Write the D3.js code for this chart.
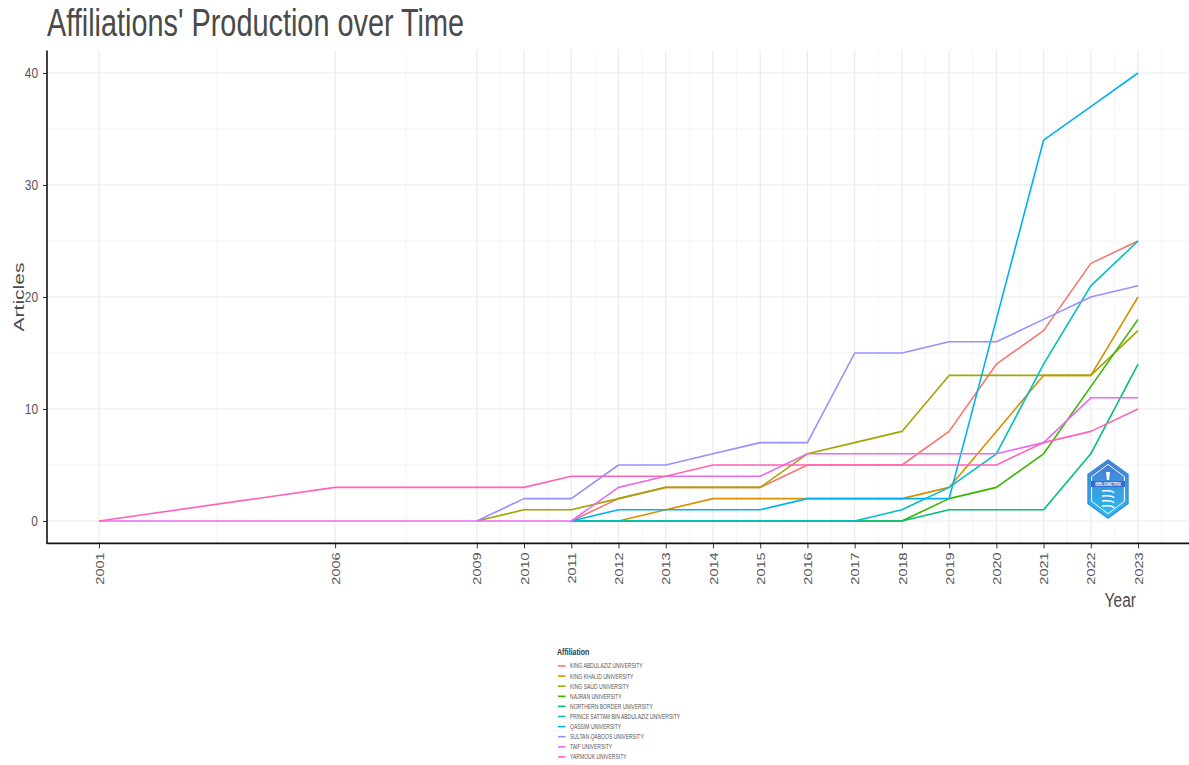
<!DOCTYPE html>
<html>
<head>
<meta charset="utf-8">
<script src="https://cdn.jsdelivr.net/npm/d3@7"></script>
<style>
  html, body { margin: 0; padding: 0; background: #fff; }
  svg { display: block; font-family: "Liberation Sans", Arial, sans-serif; }
</style>
</head>
<body>
<svg id="chart" width="1189" height="765"></svg>
<script>
// ---------- data ----------
const years = [2001, 2006, 2009, 2010, 2011, 2012, 2013, 2014, 2015, 2016, 2017, 2018, 2019, 2020, 2021, 2022, 2023];
const affiliations = [
  "KING ABDULAZIZ UNIVERSITY", "KING KHALID UNIVERSITY", "KING SAUD UNIVERSITY",
  "NAJRAN UNIVERSITY", "NORTHERN BORDER UNIVERSITY", "PRINCE SATTAM BIN ABDULAZIZ UNIVERSITY",
  "QASSIM UNIVERSITY", "SULTAN QABOOS UNIVERSITY", "TAIF UNIVERSITY", "YARMOUK UNIVERSITY"
];
const colors = ["#F8766D", "#D89000", "#A3A500", "#39B600", "#00BF7D", "#00BFC4", "#00B0F6", "#9590FF", "#E76BF3", "#FF62BC"];
const kingAbdulaziz  = [null, null, null, null, 0, 2, 3, 3, 3, 5, 5, 5, 8, 14, 17, 23, 25];
const kingKhalid     = [null, null, null, null, null, 0, 1, 2, 2, 2, 2, 2, 3, 8, 13, 13, 20];
const kingSaud       = [null, null, 0, 1, 1, 2, 3, 3, 3, 6, 7, 8, 13, 13, 13, 13, 17];
const najran         = [null, null, null, null, 0, 0, 0, 0, 0, 0, 0, 0, 2, 3, 6, 12, 18];
const northernBorder = [null, null, null, null, 0, 0, 0, 0, 0, 0, 0, 0, 1, 1, 1, 6, 14];
const princeSattam   = [null, null, null, null, 0, 0, 0, 0, 0, 0, 0, 1, 3, 6, 14, 21, 25];
const qassim         = [null, null, null, null, 0, 1, 1, 1, 1, 2, 2, 2, 2, 18, 34, 37, 40];
const sultanQaboos   = [null, null, 0, 2, 2, 5, 5, 6, 7, 7, 15, 15, 16, 16, 18, 20, 21];
const taif           = [0, 0, 0, 0, 0, 3, 4, 4, 4, 6, 6, 6, 6, 6, 7, 11, 11];
const yarmouk        = [0, 3, 3, 3, 4, 4, 4, 5, 5, 5, 5, 5, 5, 5, 7, 8, 10];
const seriesValues = [kingAbdulaziz, kingKhalid, kingSaud, najran, northernBorder, princeSattam, qassim, sultanQaboos, taif, yarmouk];
const yTicks = [0, 10, 20, 30, 40];
const yMinor = [5, 15, 25, 35];

// ---------- layout ----------
const SQ = 0.74; // horizontal text condensation
const svg = d3.select("#chart");
const x = d3.scaleLinear().domain([1999.9, 2024.1]).range([47, 1190]);
const y = d3.scaleLinear().domain([-2, 42]).range([543.4, 50.6]);

// minor x breaks at midpoints
const xMinor = [];
for (let i = 0; i < years.length - 1; i++) xMinor.push((years[i] + years[i + 1]) / 2);
xMinor.push(years[years.length - 1] + 0.5);

const grid = svg.append("g");
grid.selectAll(".xm").data(xMinor).join("line")
  .attr("x1", d => x(d)).attr("x2", d => x(d)).attr("y1", y(42)).attr("y2", y(-2))
  .attr("stroke", "#f0f0f0").attr("stroke-width", 0.7);
grid.selectAll(".ym").data(yMinor).join("line")
  .attr("x1", x.range()[0]).attr("x2", x.range()[1]).attr("y1", d => y(d)).attr("y2", d => y(d))
  .attr("stroke", "#f0f0f0").attr("stroke-width", 0.7);
grid.selectAll(".xM").data(years).join("line")
  .attr("x1", d => x(d)).attr("x2", d => x(d)).attr("y1", y(42)).attr("y2", y(-2))
  .attr("stroke", "#ebebeb").attr("stroke-width", 1.2);
grid.selectAll(".yM").data(yTicks).join("line")
  .attr("x1", x.range()[0]).attr("x2", x.range()[1]).attr("y1", d => y(d)).attr("y2", d => y(d))
  .attr("stroke", "#ebebeb").attr("stroke-width", 1.2);

// ---------- lines ----------
const line = d3.line()
  .defined(d => d.v !== null)
  .x(d => x(d.year)).y(d => y(d.v));
const linesG = svg.append("g");
seriesValues.forEach((vals, i) => {
  const pts = years.map((yr, j) => ({ year: yr, v: vals[j] }));
  linesG.append("path").datum(pts)
    .attr("d", line)
    .attr("fill", "none")
    .attr("stroke", colors[i])
    .attr("stroke-width", 1.6)
    .attr("stroke-linejoin", "round");
});

// ---------- axes ----------
const yAxis = d3.axisLeft(y).tickValues(yTicks).tickSize(4).tickPadding(5);
const yg = svg.append("g").attr("transform", `translate(${x.range()[0]},0)`).call(yAxis);
yg.select(".domain").remove();
yg.selectAll(".tick line").attr("stroke", "#333").attr("stroke-width", 1);
yg.selectAll(".tick text")
  .attr("font-size", 14).attr("fill", "#555")
  .attr("font-family", "Liberation Sans, Arial, sans-serif")
  .each(function () {
    const t = d3.select(this);
    t.attr("transform", `translate(-9,0) scale(0.85,1)`).attr("x", 0);
  });

const xAxis = d3.axisBottom(x).tickValues(years).tickFormat(d3.format("d")).tickSize(5).tickPadding(4);
const xg = svg.append("g").attr("transform", `translate(0,${y(-2)})`).call(xAxis);
xg.select(".domain").remove();
xg.selectAll(".tick line").attr("stroke", "#333").attr("stroke-width", 1);
xg.selectAll(".tick text")
  .attr("font-size", 14.5).attr("fill", "#555")
  .attr("font-family", "Liberation Sans, Arial, sans-serif")
  .attr("text-anchor", "end")
  .attr("x", 0).attr("y", 0).attr("dy", "0.36em")
  .attr("transform", `translate(0,9) scale(0.8,1) rotate(-90)`);

// axis lines
svg.append("line").attr("x1", x.range()[0]).attr("x2", x.range()[0])
  .attr("y1", y(42)).attr("y2", y(-2) + 0.5).attr("stroke", "#111").attr("stroke-width", 1.6);
svg.append("line").attr("x1", x.range()[0]).attr("x2", 1189)
  .attr("y1", y(-2)).attr("y2", y(-2)).attr("stroke", "#111").attr("stroke-width", 1.6);

// ---------- titles ----------
svg.append("text").text("Affiliations' Production over Time")
  .attr("transform", `translate(47,36) scale(${SQ},1)`)
  .attr("font-size", 39).attr("fill", "#4a4a4a");
svg.append("text").text("Year")
  .attr("transform", `translate(1136,607) scale(${SQ},1)`)
  .attr("text-anchor", "end")
  .attr("font-size", 21).attr("fill", "#4a4a4a");
svg.append("text").text("Articles")
  .attr("transform", `translate(24,297) scale(${SQ},1) rotate(-90)`)
  .attr("text-anchor", "middle")
  .attr("font-size", 21).attr("fill", "#4a4a4a");

// ---------- legend ----------
const lg = svg.append("g");
lg.append("text").text("Affiliation")
  .attr("transform", `translate(557,655) scale(${SQ},1)`)
  .attr("font-size", 9.5).attr("font-weight", "bold").attr("fill", "#333");
affiliations.forEach((name, i) => {
  const cy = 666 + i * 10.1;
  lg.append("line").attr("x1", 558).attr("x2", 565.5).attr("y1", cy).attr("y2", cy)
    .attr("stroke", colors[i]).attr("stroke-width", 1.6);
  lg.append("text").text(name)
    .attr("transform", `translate(570,${cy + 2.4}) scale(0.72,1)`)
    .attr("font-size", 7).attr("fill", "#555");
});

// ---------- logo ----------
const defs = svg.append("defs");
const grad = defs.append("linearGradient").attr("id", "lgrad").attr("x1", 0).attr("y1", 0).attr("x2", 0).attr("y2", 1);
grad.append("stop").attr("offset", "0%").attr("stop-color", "#4a78d0");
grad.append("stop").attr("offset", "100%").attr("stop-color", "#27c0f2");
const cx = 1108, cyL = 489, R = 29, RX = 20;
const hex = d3.range(6).map(k => {
  const a = Math.PI / 2 + k * Math.PI / 3;
  return [cx + RX * Math.cos(a) / Math.cos(Math.PI / 6) * (Math.abs(Math.cos(a)) > 0.01 ? 1 : 0), cyL - R * Math.sin(a)];
});
const logo = svg.append("g");
logo.append("polygon").attr("points", hex.map(p => p.join(",")).join(" "))
  .attr("fill", "url(#lgrad)").attr("stroke", "#3d8fe0").attr("stroke-width", 1.5);
const hexIn = hex.map(p => [cx + (p[0] - cx) * 0.82, cyL + (p[1] - cyL) * 0.85]);
logo.append("polygon").attr("points", hexIn.map(p => p.join(",")).join(" "))
  .attr("fill", "none").attr("stroke", "#ffffff").attr("stroke-width", 1);
logo.append("rect").attr("x", cx - 17).attr("y", cyL - 8).attr("width", 34).attr("height", 6).attr("fill", "#2f6fc7");
logo.append("text").text("BIBLIOMETRIX")
  .attr("transform", `translate(${cx},${cyL - 3}) scale(0.6,1)`)
  .attr("text-anchor", "middle").attr("font-size", 6).attr("font-weight", "bold").attr("fill", "#fff");
logo.append("path").attr("d", `M${cx - 2},${cyL - 17} L${cx + 2},${cyL - 17} L${cx + 1},${cyL - 9} L${cx - 1},${cyL - 9} Z`).attr("fill", "#fff");
[0, 1, 2, 3].forEach(k => {
  logo.append("path")
    .attr("d", `M${cx - 6},${cyL + 2 + k * 5} Q${cx + 5},${cyL + 1 + k * 5} ${cx + 6},${cyL + 4 + k * 5}`)
    .attr("fill", "none").attr("stroke", "#fff").attr("stroke-width", 1.6);
});
</script>
</body>
</html>
